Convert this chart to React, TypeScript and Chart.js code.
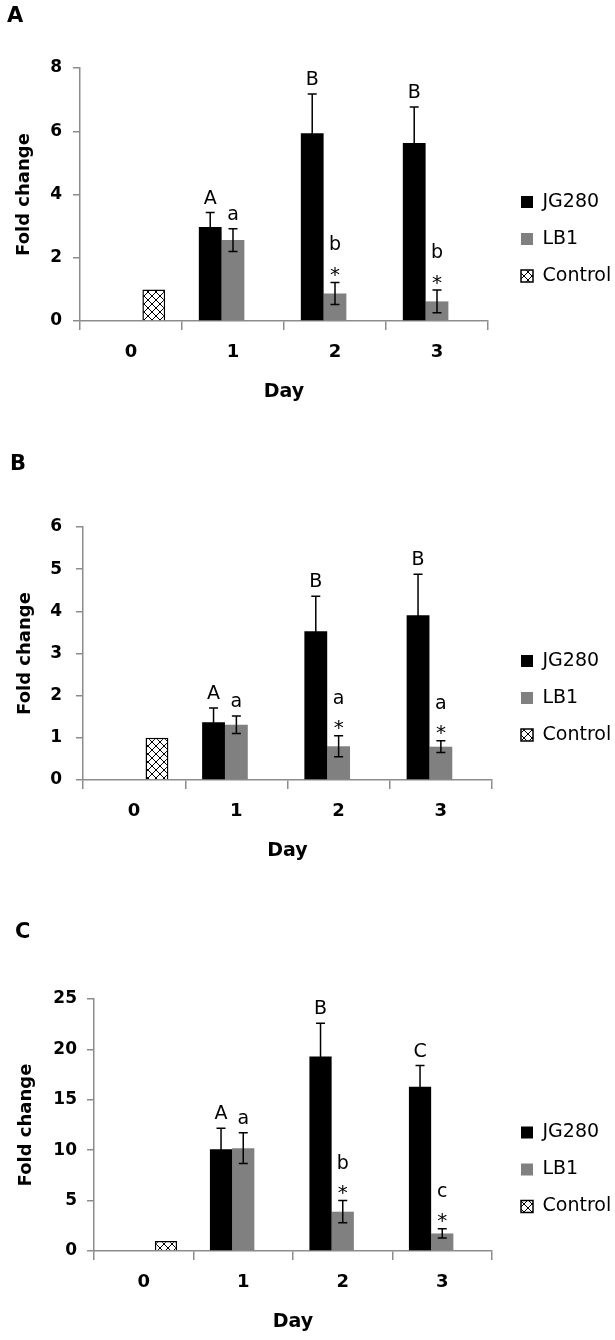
import React, { useEffect, useRef } from 'react';
import { Chart, registerables } from 'chart.js';

Chart.register(...registerables);

// ---------- shared ----------
const days = ['0', '1', '2', '3'];
const seriesLabels = ['JG280', 'LB1', 'Control'];

// ---------- Panel A ----------
const aJG280 = [null, 2.97, 5.94, 5.63];
const aJG280Err = [null, 0.46, 1.24, 1.14];
const aLB1 = [null, 2.56, 0.87, 0.62];
const aLB1Err = [null, 0.36, 0.35, 0.36];
const aControl = [1.0, null, null, null];
const aJG280Letters = ['', 'A', 'B', 'B'];
const aLB1Letters = ['', 'a', 'b', 'b'];
const aLB1Stars = ['', '', '*', '*'];
const aYMax = 8;
const aYStep = 2;

// ---------- Panel B ----------
const bJG280 = [null, 1.37, 3.53, 3.91];
const bJG280Err = [null, 0.34, 0.83, 0.97];
const bLB1 = [null, 1.31, 0.8, 0.79];
const bLB1Err = [null, 0.21, 0.25, 0.14];
const bControl = [1.0, null, null, null];
const bJG280Letters = ['', 'A', 'B', 'B'];
const bLB1Letters = ['', 'a', 'a', 'a'];
const bLB1Stars = ['', '', '*', '*'];
const bYMax = 6;
const bYStep = 1;

// ---------- Panel C ----------
const cJG280 = [null, 10.1, 19.3, 16.3];
const cJG280Err = [null, 2.07, 3.3, 2.1];
const cLB1 = [null, 10.2, 3.9, 1.74];
const cLB1Err = [null, 1.53, 1.1, 0.46];
const cControl = [1.0, null, null, null];
const cJG280Letters = ['', 'A', 'B', 'C'];
const cLB1Letters = ['', 'a', 'b', 'c'];
const cLB1Stars = ['', '', '*', '*'];
const cYMax = 25;
const cYStep = 5;

const FAMILY = "'DejaVu Sans'";
const AXIS_COLOR = '#8c8c8c';

function makeHatch(): CanvasPattern | string {
  const c = document.createElement('canvas');
  c.width = 8;
  c.height = 8;
  const g = c.getContext('2d');
  if (!g) return '#fff';
  g.fillStyle = '#fff';
  g.fillRect(0, 0, 8, 8);
  g.strokeStyle = '#000';
  g.lineWidth = 1;
  g.beginPath();
  g.moveTo(0, 0);
  g.lineTo(8, 8);
  g.moveTo(8, 0);
  g.lineTo(0, 8);
  g.stroke();
  return g.createPattern(c, 'repeat') || '#fff';
}

type Series = {
  ds: number;
  values: (number | null)[];
  errs: (number | null)[];
  letters: string[];
  stars: string[];
};

function makeAnnoPlugin(series: Series[]) {
  return {
    id: 'errAnno',
    afterDatasetsDraw(chart: any) {
      const { ctx } = chart;
      const y = chart.scales.y;
      ctx.save();
      series.forEach((s) => {
        const meta = chart.getDatasetMeta(s.ds);
        meta.data.forEach((bar: any, i: number) => {
          const v = s.values[i];
          const e = s.errs[i];
          if (v == null || e == null) return;
          const x = bar.x;
          const yTop = y.getPixelForValue(v + e);
          const yBot = y.getPixelForValue(v - e);
          ctx.strokeStyle = '#000';
          ctx.lineWidth = 1.5;
          ctx.beginPath();
          ctx.moveTo(x, yBot);
          ctx.lineTo(x, yTop);
          ctx.moveTo(x - 4.5, yTop);
          ctx.lineTo(x + 4.5, yTop);
          ctx.moveTo(x - 4.5, yBot);
          ctx.lineTo(x + 4.5, yBot);
          ctx.stroke();
          ctx.fillStyle = '#000';
          ctx.textAlign = 'center';
          ctx.textBaseline = 'alphabetic';
          const letter = s.letters[i];
          const star = s.stars[i];
          if (star) {
            ctx.font = `20px ${FAMILY}`;
            ctx.fillText(star, x, yTop - 1.5);
            ctx.font = `19px ${FAMILY}`;
            ctx.fillText(letter, x, yTop - 32);
          } else if (letter) {
            ctx.font = `19px ${FAMILY}`;
            ctx.fillText(letter, x, yTop - 9);
          }
        });
      });
      ctx.restore();
    },
  };
}

type PanelProps = {
  title: string;
  titleLeft: number;
  titleTop: number;
  top: number;
  height: number;
  padTop: number;
  yWidth: number;
  yTickPad: number;
  yTitlePad: number;
  gapRight: number;
  yMax: number;
  yStep: number;
  jg: (number | null)[];
  jgErr: (number | null)[];
  lb: (number | null)[];
  lbErr: (number | null)[];
  ctrl: (number | null)[];
  jgLetters: string[];
  lbLetters: string[];
  lbStars: string[];
};

function Panel(p: PanelProps) {
  const ref = useRef<HTMLCanvasElement | null>(null);
  useEffect(() => {
    if (!ref.current) return;
    const hatch = makeHatch();
    const plugin = makeAnnoPlugin([
      { ds: 0, values: p.jg, errs: p.jgErr, letters: p.jgLetters, stars: ['', '', '', ''] },
      { ds: 1, values: p.lb, errs: p.lbErr, letters: p.lbLetters, stars: p.lbStars },
    ]);
    const chart = new Chart(ref.current, {
      type: 'bar',
      data: {
        labels: days,
        datasets: [
          { label: seriesLabels[0], data: p.jg as any, backgroundColor: '#000', borderWidth: 0, yAxisID: 'y' },
          { label: seriesLabels[1], data: p.lb as any, backgroundColor: '#808080', borderWidth: 0, yAxisID: 'y' },
          { label: seriesLabels[2], data: p.ctrl as any, backgroundColor: hatch as any, borderColor: '#000', borderWidth: 1.5, yAxisID: 'y' },
        ],
      },
      options: {
        responsive: false,
        animation: false,
        devicePixelRatio: 1,
        layout: { padding: { top: p.padTop, left: 0, right: 0, bottom: 0 } },
        datasets: { bar: { categoryPercentage: 0.67, barPercentage: 1.0 } },
        plugins: {
          tooltip: { enabled: false },
          title: { display: false },
          legend: {
            position: 'right',
            maxWidth: 112,
            labels: {
              boxWidth: 12,
              boxHeight: 12,
              padding: 18,
              color: '#000',
              font: { family: FAMILY, size: 19 },
            },
          },
        },
        scales: {
          x: {
            grid: {
              display: true,
              drawOnChartArea: false,
              drawTicks: true,
              tickLength: 9,
              color: AXIS_COLOR,
              lineWidth: 1.5,
              offset: true,
            },
            border: { display: true, color: AXIS_COLOR, width: 1.5 },
            ticks: { color: '#000', padding: 12, font: { family: FAMILY, weight: 'bold', size: 18 } },
            title: {
              display: true,
              text: 'Day',
              color: '#000',
              font: { family: FAMILY, weight: 'bold', size: 19 },
              padding: { top: 0, bottom: 7 },
            },
            afterFit: (s: any) => {
              s.height = 89;
            },
          },
          y: {
            position: 'left',
            min: 0,
            max: p.yMax,
            grid: { drawOnChartArea: false, drawTicks: true, tickLength: 7, color: AXIS_COLOR, lineWidth: 1.5 },
            border: { display: true, color: AXIS_COLOR, width: 1.5 },
            ticks: {
              stepSize: p.yStep,
              padding: p.yTickPad,
              color: '#000',
              font: { family: FAMILY, weight: 'bold', size: 17 },
            },
            title: {
              display: true,
              text: 'Fold change',
              color: '#000',
              font: { family: FAMILY, weight: 'bold', size: 18 },
              padding: { top: p.yTitlePad, bottom: 0 },
            },
            afterFit: (s: any) => {
              s.width = p.yWidth;
            },
          },
          gap: {
            type: 'linear',
            position: 'right',
            display: true,
            grid: { display: false, drawTicks: false },
            border: { display: false },
            ticks: { display: false },
            afterFit: (s: any) => {
              s.width = p.gapRight;
            },
          },
        },
      } as any,
      plugins: [plugin as any],
    });
    return () => chart.destroy();
  }, []);
  return (
    <div style={{ position: 'absolute', left: 0, top: p.top, width: 615, height: p.height }}>
      <canvas ref={ref} width={615} height={p.height} style={{ display: 'block' }} />
      <div
        style={{
          position: 'absolute',
          left: p.titleLeft,
          top: p.titleTop,
          fontFamily: FAMILY,
          fontWeight: 'bold',
          fontSize: 21,
          lineHeight: '21px',
          color: '#000',
        }}
      >
        {p.title}
      </div>
    </div>
  );
}

export default function App() {
  return (
    <div style={{ position: 'absolute', left: 0, top: 0, width: 615, height: 1340, background: '#fff', overflow: 'hidden' }}>
      <Panel
        title="A" titleLeft={7} titleTop={5}
        top={0} height={410} padTop={68} yWidth={80} yTickPad={11} yTitlePad={14} gapRight={15}
        yMax={aYMax} yStep={aYStep}
        jg={aJG280} jgErr={aJG280Err} lb={aLB1} lbErr={aLB1Err} ctrl={aControl}
        jgLetters={aJG280Letters} lbLetters={aLB1Letters} lbStars={aLB1Stars}
      />
      <Panel
        title="B" titleLeft={10} titleTop={23}
        top={430} height={439} padTop={97} yWidth={83} yTickPad={14} yTitlePad={15} gapRight={11}
        yMax={bYMax} yStep={bYStep}
        jg={bJG280} jgErr={bJG280Err} lb={bLB1} lbErr={bLB1Err} ctrl={bControl}
        jgLetters={bJG280Letters} lbLetters={bLB1Letters} lbStars={bLB1Stars}
      />
      <Panel
        title="C" titleLeft={15} titleTop={41}
        top={880} height={460} padTop={119} yWidth={94} yTickPad={10} yTitlePad={16} gapRight={11}
        yMax={cYMax} yStep={cYStep}
        jg={cJG280} jgErr={cJG280Err} lb={cLB1} lbErr={cLB1Err} ctrl={cControl}
        jgLetters={cJG280Letters} lbLetters={cLB1Letters} lbStars={cLB1Stars}
      />
    </div>
  );
}
